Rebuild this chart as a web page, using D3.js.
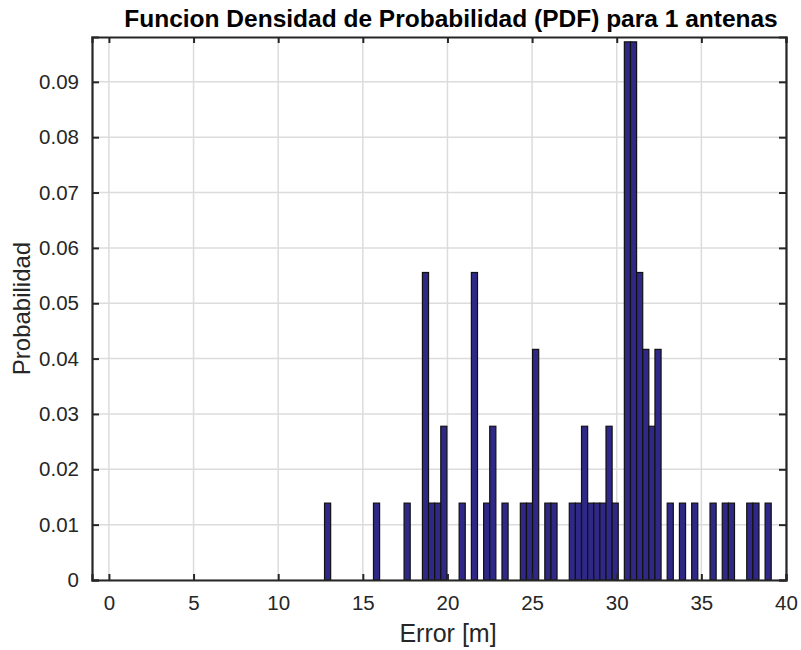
<!DOCTYPE html>
<html>
<head>
<meta charset="utf-8">
<script src="https://cdn.jsdelivr.net/npm/d3@7"></script>
<style>
  body { margin: 0; background: #fff; }
  svg { font-family: "Liberation Sans", Arial, sans-serif; }
</style>
</head>
<body>
<div id="chart"></div>
<script>
// Histogram bins (error in metres)
const BIN_START = -1.0;      // left edge of the first bin
const BIN_WIDTH = 0.3615;    // width of each bin
const NUM_BINS = 111;
const TOTAL_SAMPLES = 72;

// Non-empty bins: left edge and sample count
const binEdges  = [12.72, 15.61, 17.42, 18.50, 18.86, 19.22, 19.58, 20.67, 21.39, 22.11, 22.48, 23.20,
                   24.28, 24.65, 25.01, 25.73, 26.09, 27.18, 27.54, 27.90, 28.26, 28.63, 28.99, 29.35,
                   29.71, 30.43, 30.80, 31.16, 31.52, 31.88, 32.24, 32.96, 33.69, 34.41, 35.49, 36.22,
                   36.58, 37.66, 38.02, 38.75];
const binCounts = [1, 1, 1, 4, 1, 1, 2, 1, 4, 1, 2, 1,
                   1, 1, 3, 1, 1, 1, 1, 2, 1, 1, 1, 2,
                   1, 7, 7, 4, 3, 2, 3, 1, 1, 1, 1, 1,
                   1, 1, 1, 1];

const xTicks = [0, 5, 10, 15, 20, 25, 30, 35, 40];
const yTicks = [0, 0.01, 0.02, 0.03, 0.04, 0.05, 0.06, 0.07, 0.08, 0.09];

const TITLE = 'Funcion Densidad de Probabilidad (PDF) para 1 antenas';
const X_LABEL = 'Error [m]';
const Y_LABEL = 'Probabilidad';

const W = 801, H = 650;
const margin = { top: 37, right: 15, bottom: 70, left: 92 };
const innerW = W - margin.left - margin.right;
const innerH = H - margin.top - margin.bottom;

const svg = d3.select('#chart').append('svg')
    .attr('width', W)
    .attr('height', H);

const x = d3.scaleLinear().domain([-1, 40]).range([0, innerW]);
const y = d3.scaleLinear().domain([0, 0.0981]).range([innerH, 0]);

const g = svg.append('g').attr('transform', `translate(${margin.left},${margin.top})`);

svg.append('defs').append('clipPath').attr('id', 'plot-clip')
    .append('rect').attr('width', innerW).attr('height', innerH + 2).attr('y', -1);

// grid lines
g.append('g').selectAll('line')
    .data(xTicks)
    .enter().append('line')
    .attr('x1', d => x(d)).attr('x2', d => x(d))
    .attr('y1', 0).attr('y2', innerH)
    .attr('stroke', '#dcdcdc').attr('stroke-width', 1.5);

g.append('g').selectAll('line')
    .data(yTicks)
    .enter().append('line')
    .attr('x1', 0).attr('x2', innerW)
    .attr('y1', d => y(d)).attr('y2', d => y(d))
    .attr('stroke', '#dcdcdc').attr('stroke-width', 1.5);

// every bin, empty ones included (they show as an outline on the baseline)
const counts = new Map(binEdges.map((e, i) => [Math.round((e - BIN_START) / BIN_WIDTH), binCounts[i]]));
const bins = d3.range(NUM_BINS).map(i => ({
    x0: BIN_START + i * BIN_WIDTH,
    p: (counts.get(i) || 0) / TOTAL_SAMPLES
}));

g.append('g').attr('clip-path', 'url(#plot-clip)')
    .selectAll('rect')
    .data(bins)
    .enter().append('rect')
    .attr('x', d => x(d.x0))
    .attr('width', d => x(d.x0 + BIN_WIDTH) - x(d.x0))
    .attr('y', d => y(d.p))
    .attr('height', d => innerH - y(d.p))
    .attr('fill', '#2f2886')
    .attr('stroke', '#111')
    .attr('stroke-width', 1.2);

// axes, ticks pointing inward, box all round
const axisColor = '#262626';
g.append('g').attr('transform', `translate(0,${innerH})`)
    .call(d3.axisBottom(x).tickValues(xTicks).tickSize(-6).tickPadding(15).tickFormat(d3.format('d')));
g.append('g')
    .call(d3.axisLeft(y).tickValues(yTicks).tickSize(-7).tickPadding(13).tickFormat(d => d === 0 ? '0' : d3.format('.2f')(d)));
g.append('g')
    .call(d3.axisTop(x).tickValues(xTicks).tickSize(-6).tickFormat(''));
g.append('g').attr('transform', `translate(${innerW},0)`)
    .call(d3.axisRight(y).tickValues(yTicks).tickSize(-7).tickFormat(''));

g.selectAll('.domain').attr('stroke', axisColor).attr('stroke-width', 2.2);
g.selectAll('.tick line').attr('stroke', axisColor).attr('stroke-width', 2);
g.selectAll('.tick text').attr('fill', '#262626').attr('font-size', 20.5)
    .attr('font-family', '"Liberation Sans", Arial, sans-serif');

// title and labels
svg.append('text')
    .attr('x', 451).attr('y', 27)
    .attr('text-anchor', 'middle')
    .attr('font-size', 24.5)
    .attr('font-weight', 'bold')
    .attr('fill', '#000')
    .text(TITLE);

svg.append('text')
    .attr('x', 448).attr('y', 642)
    .attr('text-anchor', 'middle')
    .attr('font-size', 25)
    .attr('fill', '#262626')
    .text(X_LABEL);

svg.append('text')
    .attr('transform', `translate(30,${margin.top + innerH / 2}) rotate(-90)`)
    .attr('text-anchor', 'middle')
    .attr('font-size', 24)
    .attr('fill', '#262626')
    .text(Y_LABEL);
</script>
</body>
</html>
